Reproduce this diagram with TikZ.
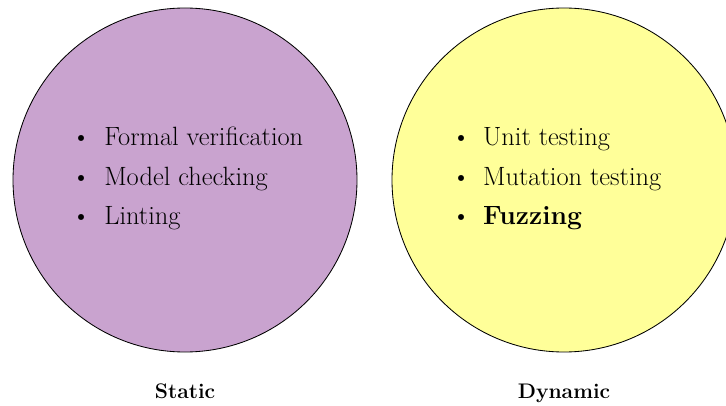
\documentclass[tikz,border=0pt]{standalone}
\usepackage{xcolor}
\usepackage{tikz}
\usetikzlibrary{calc,positioning}
\definecolor{statikMor}{HTML}{C9A3CF}
\definecolor{dinamikSari}{HTML}{FFFF99}

\begin{document}
\begin{tikzpicture}[
  alan/.style={circle,draw=black,line width=0.6pt,minimum size=8.6cm,inner sep=0pt},
  madde/.style={anchor=base west,inner sep=0pt,font=\fontsize{18.8}{22}\selectfont},
  nokta/.style={anchor=base,inner sep=0pt,font=\fontsize{18.8}{22}\selectfont},
  baslik/.style={anchor=base,inner sep=0pt,font=\fontsize{15}{18}\selectfont\bfseries}]
\useasboundingbox (0,0) rectangle (18.15,10.125);
% iki daire
\node[alan,fill=statikMor] (static) at (4.625,5.625) {};
\node[alan,fill=dinamikSari] (dynamic) at (14.1,5.625) {};
% sol liste
\foreach \i/\yy/\txt in {1/6.48/Formal verification,2/5.49/Model checking,3/4.5/Linting} {
  \node[nokta] (sb\i) at (2.03,\yy) {\textbullet};
  \node[madde] (st\i) at (2.6,\yy) {\txt};
}
% sag liste
\foreach \i/\yy/\txt in {1/6.48/Unit testing,2/5.49/Mutation testing,3/4.5/\textbf{Fuzzing}} {
  \node[nokta] (db\i) at (11.53,\yy) {\textbullet};
  \node[madde] (dt\i) at (12.07,\yy) {\txt};
}
\node[baslik] (staticlabel) at ([yshift=-1.15cm]static.south) {Static};
\node[baslik] (dynamiclabel) at ([yshift=-1.15cm]dynamic.south) {Dynamic};
\end{tikzpicture}
\end{document}
